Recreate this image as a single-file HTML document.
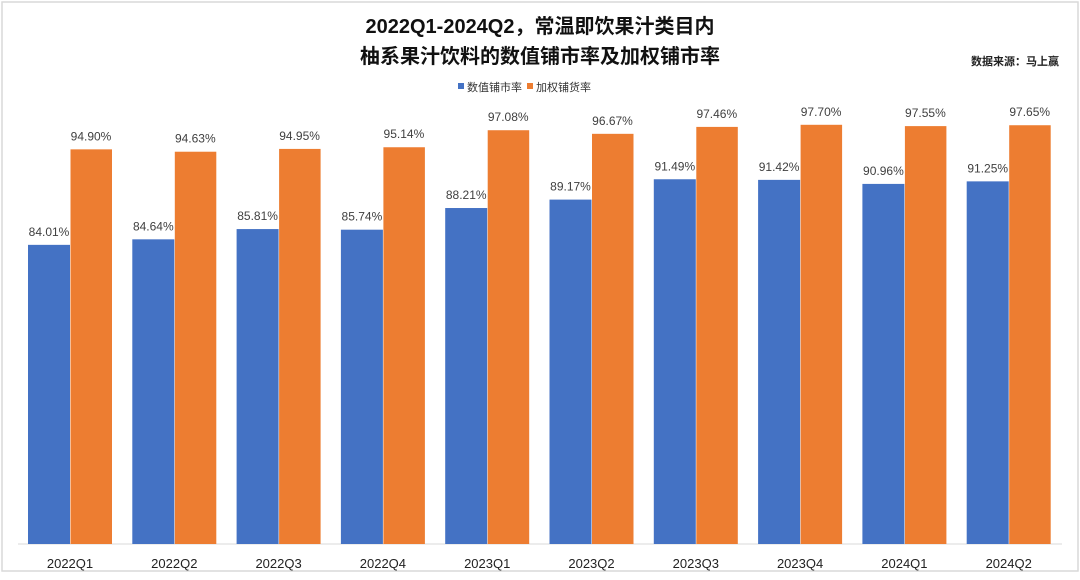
<!DOCTYPE html><html><head><meta charset="utf-8"><style>
body{margin:0;width:1080px;height:575px;background:#fff;overflow:hidden}
svg{font-family:"Liberation Sans","Noto Sans CJK SC",sans-serif}
</style></head><body>
<svg width="1080" height="575" xmlns="http://www.w3.org/2000/svg">
<rect x="2" y="2" width="1076" height="569" fill="#fff" stroke="#d9d9d9" stroke-width="1.5"/>
<text x="540" y="33" text-anchor="middle" font-size="20" font-weight="bold" fill="#111">2022Q1-2024Q2，常温即饮果汁类目内</text>
<text x="540" y="63" text-anchor="middle" font-size="20" font-weight="bold" fill="#111">柚系果汁饮料的数值铺市率及加权铺市率</text>
<text x="1015" y="65" text-anchor="middle" font-size="11" font-weight="bold" fill="#222">数据来源：马上赢</text>
<rect x="458" y="83" width="6" height="6" fill="#4472C4"/>
<text x="467" y="91" font-size="11" fill="#333">数值铺市率</text>
<rect x="527" y="83" width="6" height="6" fill="#ED7D31"/>
<text x="536" y="91" font-size="11" fill="#333">加权铺货率</text>
<line x1="18" y1="544" x2="1062" y2="544" stroke="#d9d9d9" stroke-width="1"/>
<g id="bars"></g>
</svg>
<script>
var b=[84.01,84.64,85.81,85.74,88.21,89.17,91.49,91.42,90.96,91.25];
var o=[94.90,94.63,94.95,95.14,97.08,96.67,97.46,97.70,97.55,97.65];
var c=['2022Q1','2022Q2','2022Q3','2022Q4','2023Q1','2023Q2','2023Q3','2023Q4','2024Q1','2024Q2'];
var g=document.getElementById('bars'),h='';
function y(v){return 544-8.77*(v-49.9);}
for(var i=0;i<10;i++){var x=28+104.3*i;
h+='<rect x="'+x+'" y="'+y(b[i])+'" width="42" height="'+(544-y(b[i]))+'" fill="#4472C4"/>';
h+='<rect x="'+(x+42.5)+'" y="'+y(o[i])+'" width="41.5" height="'+(544-y(o[i]))+'" fill="#ED7D31"/>';
h+='<text x="'+(x+21)+'" y="'+(y(b[i])-9)+'" text-anchor="middle" font-size="12" fill="#404040">'+b[i].toFixed(2)+'%</text>';
h+='<text x="'+(x+63)+'" y="'+(y(o[i])-9)+'" text-anchor="middle" font-size="12" fill="#404040">'+o[i].toFixed(2)+'%</text>';
h+='<text x="'+(x+42)+'" y="568" text-anchor="middle" font-size="13" fill="#222">'+c[i]+'</text>';}
g.innerHTML=h;
</script>
</body></html>
